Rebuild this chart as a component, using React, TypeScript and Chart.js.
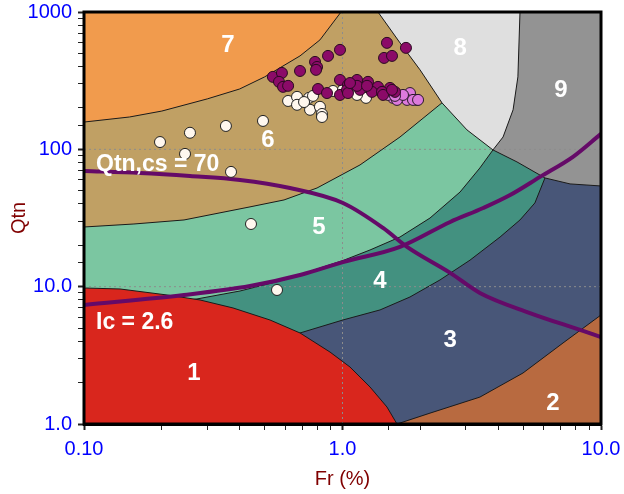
import React, { useEffect, useRef } from 'react';
import { Chart, registerables } from 'chart.js';

Chart.register(...registerables);

// ---- axes ----
const X_MIN = 0.1;
const X_MAX = 10;
const Y_MIN = 1;
const Y_MAX = 1000;
const xTickValues = [0.1, 1, 10];
const xTickLabels = ['0.10', '1.0', '10.0'];
const yTickValues = [1, 10, 100, 1000];
const yTickLabels = ['1.0', '10.0', '100', '1000'];
const gridFr = [1];
const gridQ = [10, 100];

// ---- zone outlines (Fr %, Qtn) ----
const zone2Fr = [0.1, 0.1, 10, 10];
const zone2Q = [1000, 1, 1, 1000];
const zone3Fr = [0.1, 0.1, 1.625, 2.18, 3.4, 4.99, 7.13, 10, 10];
const zone3Q = [1000, 1, 1, 1.2, 1.57, 2.35, 3.89, 6.22, 1000];
const zone4Fr = [0.1, 0.1, 0.685, 1.004, 1.397, 1.824, 2.384, 3.113, 4.07, 4.86, 5.55, 6.07, 6.07];
const zone4Q = [1000, 1, 4.6, 5.72, 6.77, 8.41, 11.2, 15.6, 23.0, 30.6, 40.7, 61.9, 1000];
const zone5Fr = [0.1, 0.1, 0.2736, 0.4014, 0.594, 1.013, 1.278, 1.669, 2.18, 2.85, 3.4, 3.82, 3.82];
const zone5Q = [1000, 6.5, 8.14, 9.3, 11.2, 15.6, 18.5, 23.0, 31.6, 48.9, 73.2, 99, 1000];
const zone6Fr = [0.1, 0.1, 0.156, 0.2437, 0.4387, 0.594, 0.797, 1.169, 1.669, 2.426, 2.426];
const zone6Q = [1000, 27.2, 28.6, 30.6, 38.1, 42.8, 52.3, 77.0, 123, 218, 1000];
const zone7Fr = [0.1, 0.1, 0.15, 0.2, 0.3, 0.4, 0.5, 0.685, 0.818, 0.987];
const zone7Q = [1000, 158, 172, 190, 233, 275, 337, 479, 626, 1000];
const zone1Fr = [0.1, 0.1, 0.1378, 0.2095, 0.281, 0.377, 0.524, 0.685, 0.895, 1.069, 1.278, 1.486, 1.625];
const zone1Q = [1, 9.78, 9.62, 8.7, 8.0, 7.0, 5.72, 4.6, 3.34, 2.6, 1.86, 1.33, 1];
const zone9Fr = [3.82, 3.82, 4.73, 6.07, 7.59, 10, 10];
const zone9Q = [1000, 99, 81, 61.9, 56, 54.1, 1000];
const zone8Fr = [1.372, 1.669, 1.995, 2.426, 3.031, 3.82, 4.18, 4.57, 4.77, 4.86];
const zone8Q = [1000, 596, 379, 218, 138.5, 99, 123, 194, 337, 1000];

// ---- reference curves ----
const qtnFr = [0.1, 0.1647, 0.257, 0.4014, 0.626, 1.004, 1.435, 1.777, 2.61, 3.4, 5.31, 8.3, 10];
const qtnQ = [69.6, 67.3, 64.0, 59.9, 52.3, 40.7, 26.8, 19.5, 12.6, 9.0, 6.43, 4.84, 4.3];
const icFr = [0.1, 0.2437, 0.4387, 0.691, 1.004, 1.669, 2.61, 3.5, 4.45, 5.81, 7.79, 10];
const icQ = [7.36, 8.7, 10.1, 12.2, 15.1, 19.5, 29.6, 37.4, 46.5, 63.0, 88.1, 129.5];

// ---- CPT data ----
const whiteFr = [0.1968, 0.257, 0.354, 0.4925, 0.2459, 0.3704, 0.4426, 0.558, 0.616, 0.667, 0.667, 0.742, 0.749, 0.818, 0.833, 0.769, 0.919, 1.004, 1.233, 0.71, 0.833, 1.069, 1.372, 1.138];
const whiteQ = [113, 132, 148, 161, 92.6, 68.5, 28.6, 9.46, 225, 241, 211, 237, 194, 204, 181, 245, 266, 271, 237, 221, 172, 280, 271, 249];
const pinkFr = [1.568, 1.699, 1.824, 1.942, 1.777, 1.625, 1.874, 1.96, 1.5, 1.714, 1.596];
const pinkQ = [237, 241, 257, 229, 229, 229, 229, 229, 249, 249, 245];
const magFr = [0.538, 0.583, 0.568, 0.589, 0.616, 0.685, 0.783, 0.797, 0.79, 0.879, 0.978, 1.486, 1.76, 1.448, 1.554, 0.804, 0.871, 0.978, 0.978, 1.05, 1.138, 1.255, 1.372, 1.527, 1.041, 1.169, 1.3, 1.422, 1.596, 1.05, 1.138, 1.244, 1.435, 1.554, 1.069];
const magQ = [337, 360, 310, 285, 290, 372, 433, 398, 379, 479, 530, 596, 548, 463, 479, 275, 257, 249, 320, 294, 320, 310, 285, 280, 271, 271, 262, 262, 262, 257, 290, 290, 249, 271, 304];

// ---- labels ----
const zoneLabelText = ['7', '6', '5', '4', '3', '1', '2', '8', '9'];
const zoneLabelFr = [0.36, 0.515, 0.811, 1.397, 2.61, 0.2665, 6.52, 2.85, 7.0];
const zoneLabelQ = [576, 117, 26.8, 11.0, 4.09, 2.35, 1.42, 543, 269];
const noteText = ['Qtn,cs = 70', 'Ic = 2.6'];
const noteFr = [0.1113, 0.1113];
const noteQ = [77.0, 5.44];

const FONT = '"Liberation Sans", Arial, sans-serif';

const pts = (fr: number[], q: number[]) => fr.map((x, i) => ({ x, y: q[i] }));

const zone = (fr: number[], q: number[], color: string, order: number) => ({
  data: pts(fr, q),
  backgroundColor: color,
  borderColor: '#1a1a1a',
  borderWidth: 1,
  fill: 'shape',
  pointRadius: 0,
  pointHoverRadius: 0,
  tension: 0,
  showLine: true,
  order,
});

const isDecade = (v: number) => Math.abs(Math.log10(v) - Math.round(Math.log10(v))) < 1e-6;

const labelFor = (vals: number[], labels: string[]) => (v: any) => {
  const n = Number(v);
  const i = vals.findIndex((t) => Math.abs(Math.log10(n) - Math.log10(t)) < 1e-6);
  return i >= 0 ? labels[i] : '';
};

const overlay = {
  id: 'overlay',
  afterDatasetsDraw(chart: any) {
    const { ctx, chartArea: a, scales } = chart;
    const xs = scales.x;
    const ys = scales.y;
    ctx.save();
    ctx.fillStyle = '#ffffff';
    ctx.textBaseline = 'middle';
    ctx.textAlign = 'center';
    ctx.font = `bold 24px ${FONT}`;
    zoneLabelText.forEach((t, i) => {
      ctx.fillText(t, xs.getPixelForValue(zoneLabelFr[i]), ys.getPixelForValue(zoneLabelQ[i]));
    });
    ctx.textAlign = 'left';
    ctx.font = `bold 23px ${FONT}`;
    noteText.forEach((t, i) => {
      ctx.fillText(t, xs.getPixelForValue(noteFr[i]), ys.getPixelForValue(noteQ[i]));
    });
    ctx.strokeStyle = '#000';
    ctx.lineWidth = 3;
    ctx.strokeRect(a.left, a.top, a.right - a.left, a.bottom - a.top);
    ctx.restore();
  },
};

export default function App() {
  const ref = useRef<HTMLCanvasElement>(null);
  useEffect(() => {
    document.body.style.margin = '0';
    const canvas = ref.current;
    if (!canvas) return;

    const datasets: any[] = [
      zone(zone2Fr, zone2Q, '#b86a40', 100),
      zone(zone3Fr, zone3Q, '#485678', 99),
      zone(zone4Fr, zone4Q, '#439180', 98),
      zone(zone5Fr, zone5Q, '#7bc6a1', 97),
      zone(zone6Fr, zone6Q, '#c0a064', 96),
      zone(zone7Fr, zone7Q, '#f19b4d', 95),
      zone(zone1Fr, zone1Q, '#d9261d', 94),
      zone(zone9Fr, zone9Q, '#939393', 93),
      zone(zone8Fr, zone8Q, '#dfdfdf', 92),
      ...gridFr.map((f) => ({
        data: [{ x: f, y: Y_MIN }, { x: f, y: Y_MAX }],
        borderColor: '#8c8c8c', borderWidth: 1, borderDash: [2, 3], pointRadius: 0, fill: false, order: 90,
      })),
      ...gridQ.map((q) => ({
        data: [{ x: X_MIN, y: q }, { x: X_MAX, y: q }],
        borderColor: '#8c8c8c', borderWidth: 1, borderDash: [2, 3], pointRadius: 0, fill: false, order: 90,
      })),
      {
        data: pts(qtnFr, qtnQ), borderColor: '#650a68', borderWidth: 4, pointRadius: 0, fill: false,
        cubicInterpolationMode: 'monotone', order: 80,
      },
      {
        data: pts(icFr, icQ), borderColor: '#650a68', borderWidth: 4, pointRadius: 0, fill: false,
        cubicInterpolationMode: 'monotone', order: 80,
      },
      {
        data: pts(whiteFr, whiteQ), showLine: false, pointRadius: 5.5, pointBorderWidth: 1,
        pointBackgroundColor: '#fff7ee', pointBorderColor: '#222', order: 70,
      },
      {
        data: pts(pinkFr, pinkQ), showLine: false, pointRadius: 5.5, pointBorderWidth: 1,
        pointBackgroundColor: '#dc7adc', pointBorderColor: '#2a1a2a', order: 60,
      },
      {
        data: pts(magFr, magQ), showLine: false, pointRadius: 5.5, pointBorderWidth: 1,
        pointBackgroundColor: '#8b0a68', pointBorderColor: '#2a0a20', order: 50,
      },
    ];

    const chart = new Chart(canvas, {
      type: 'line',
      data: { datasets },
      options: {
        animation: false,
        responsive: false,
        events: [],
        layout: { padding: { top: 12, right: 23, left: 0, bottom: 0 } },
        plugins: { legend: { display: false }, tooltip: { enabled: false }, title: { display: false } },
        scales: {
          x: {
            type: 'logarithmic',
            min: X_MIN,
            max: X_MAX,
            afterFit: (s: any) => { s.height = 70; s.paddingLeft = 0; s.paddingRight = 0; },
            ticks: {
              autoSkip: false,
              maxRotation: 0,
              color: '#0000ff',
              padding: 7,
              font: { size: 20, family: FONT },
              callback: labelFor(xTickValues, xTickLabels),
            },
            grid: {
              drawOnChartArea: false,
              drawTicks: true,
              tickLength: 6,
              tickColor: '#222',
              tickWidth: (c: any) => (c.tick && isDecade(c.tick.value) ? 2 : 1),
            },
            border: { display: true, color: '#000', width: 3 },
            title: {
              display: true, text: 'Fr (%)', color: '#800000',
              font: { size: 20, family: FONT }, padding: { top: 0, bottom: 3 },
            },
          },
          y: {
            type: 'logarithmic',
            min: Y_MIN,
            max: Y_MAX,
            afterFit: (s: any) => { s.width = 84; s.paddingTop = 0; s.paddingBottom = 0; },
            ticks: {
              autoSkip: false,
              color: '#0000ff',
              padding: 6,
              font: { size: 20, family: FONT },
              callback: labelFor(yTickValues, yTickLabels),
            },
            grid: {
              drawOnChartArea: false,
              drawTicks: true,
              tickLength: 6,
              tickColor: '#222',
              tickWidth: (c: any) => (c.tick && isDecade(c.tick.value) ? 2 : 1),
            },
            border: { display: true, color: '#000', width: 3 },
            title: {
              display: true, text: 'Qtn', color: '#800000',
              font: { size: 20, family: FONT }, padding: { top: 7, bottom: 0 },
            },
          },
        },
      } as any,
      plugins: [overlay],
    });
    return () => chart.destroy();
  }, []);

  return (
    <div style={{ width: 624, height: 494 }}>
      <canvas ref={ref} width={624} height={494} style={{ display: 'block' }} />
    </div>
  );
}
